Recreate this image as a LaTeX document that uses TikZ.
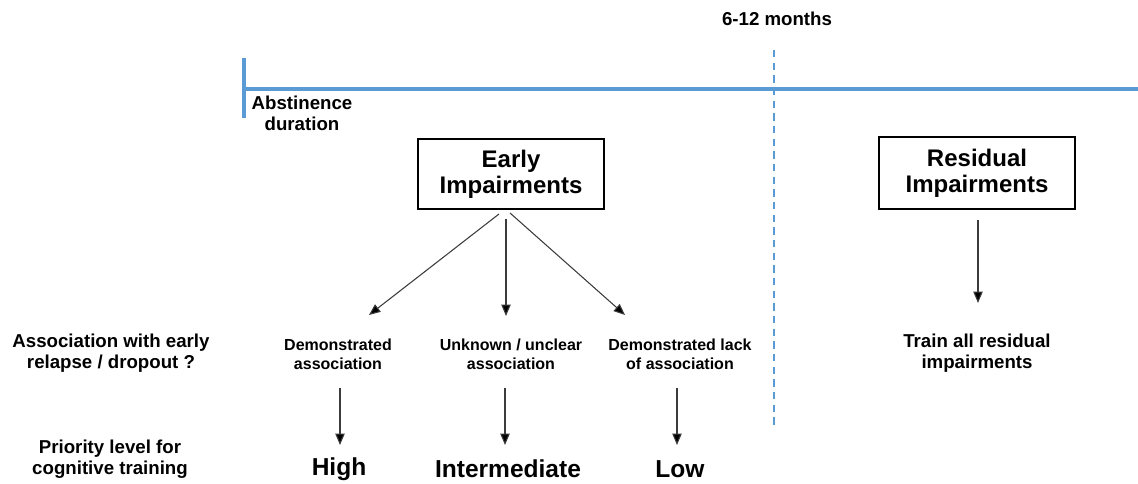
\documentclass[tikz,border=0pt]{standalone}
\usepackage{fontspec}
\setmainfont{Liberation Sans}
\usetikzlibrary{arrows.meta}
\definecolor{axisblue}{RGB}{91,155,213}
\definecolor{arrowgrey}{RGB}{60,60,60}
\tikzset{
  lbl/.style={font=\bfseries\fontsize{14}{16}\selectfont, align=center, inner sep=0pt},
  small/.style={font=\bfseries\fontsize{12}{14}\selectfont, align=center, inner sep=0pt},
  big/.style={font=\bfseries\fontsize{18.4}{26}\selectfont, align=center, inner sep=0pt},
  boxnode/.style={draw=black, line width=1.5pt, font=\bfseries\fontsize{18}{19.5}\selectfont, align=center, inner sep=0pt},
  arr/.style={draw=arrowgrey, line width=0.8pt, -{Triangle[length=8.5pt,width=7pt,fill=black]}},
  axis/.style={draw=axisblue, line width=2.4pt},
  dashline/.style={draw=axisblue, line width=1.3pt, dash pattern=on 5.5pt off 4pt}
}
\begin{document}
\begin{tikzpicture}[x=0.75pt,y=-0.75pt]
\useasboundingbox (0,0) rectangle (1138,484);
% timeline
\coordinate (tl) at (244,89);
\coordinate (tr) at (1138,89);
\coordinate (tkt) at (244,58);
\coordinate (tkb) at (244,118);
\coordinate (dt) at (774,50);
\coordinate (db) at (774,428);
\draw[axis] (tl) -- (tr);
\draw[axis] (tkt) -- (tkb);
\draw[dashline] (dt) -- (db);
\node[lbl] (months) at (777,19) {6-12 months};
\node[lbl] (abst) at (302,113) {Abstinence\\duration};
% boxes
\node[boxnode, minimum width=139.5pt, minimum height=52.5pt] (early) at (511,174) {Early\\Impairments};
\node[boxnode, minimum width=147pt, minimum height=54pt] (resid) at (977,173) {Residual\\Impairments};
% left labels
\node[lbl] (assoc) at (111,353) {Association with early\\relapse / dropout ?};
\node[lbl] (prio) at (110,459) {Priority level for\\cognitive training};
% middle categories
\node[small] (demo) at (338,354) {Demonstrated\\association};
\node[small] (unk) at (511,354) {Unknown / unclear\\association};
\node[small] (lack) at (680,354) {Demonstrated lack\\of association};
\node[lbl] (train) at (977,353) {Train all residual\\impairments};
% priorities
\node[big] (high) at (339,469) {High};
\node[big] (inter) at (508,469) {Intermediate};
\node[big] (low) at (680,469) {Low};
% arrows from early box
\coordinate (e1) at (499,214);
\coordinate (e2) at (506,219);
\coordinate (e3) at (510,213);
\coordinate (a1) at (369,315);
\coordinate (a2) at (506,316);
\coordinate (a3) at (625,315);
\draw[arr] (e1) -- (a1);
\draw[arr] (e2) -- (a2);
\draw[arr] (e3) -- (a3);
% residual arrow
\coordinate (r1) at (978,220);
\coordinate (r2) at (978,303);
\draw[arr] (r1) -- (r2);
% lower arrows
\coordinate (h1) at (340,388);
\coordinate (h2) at (340,445);
\coordinate (i1) at (505,388);
\coordinate (i2) at (505,445);
\coordinate (l1) at (677,388);
\coordinate (l2) at (677,445);
\draw[arr] (h1) -- (h2);
\draw[arr] (i1) -- (i2);
\draw[arr] (l1) -- (l2);
\end{tikzpicture}
\end{document}
